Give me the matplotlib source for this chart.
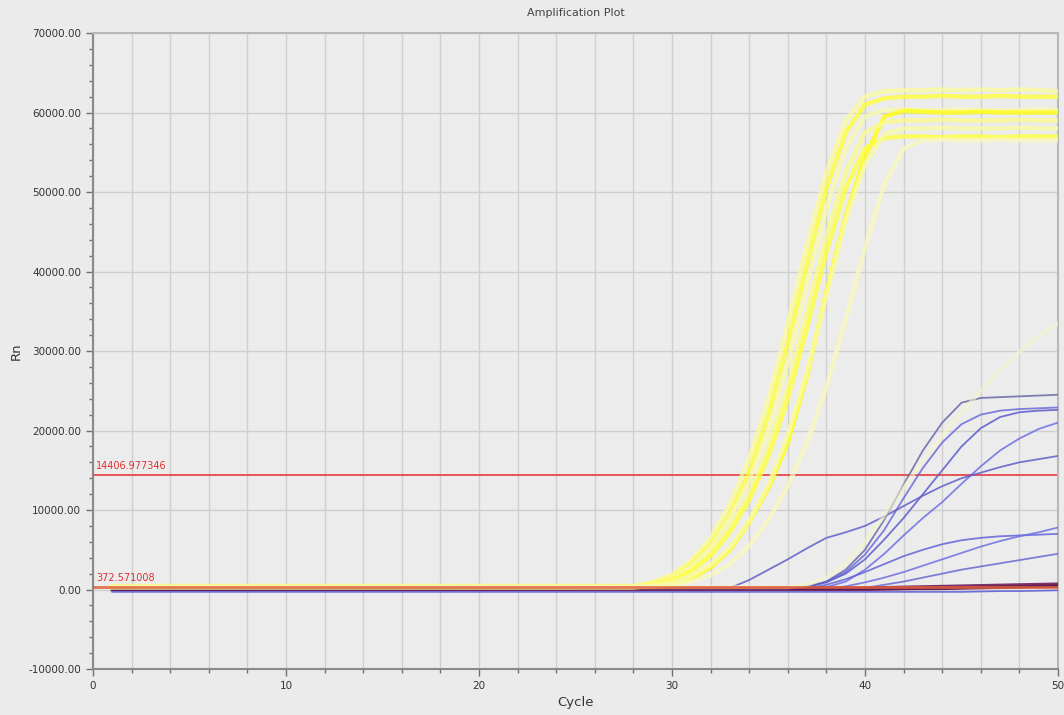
import numpy as np
import matplotlib.pyplot as plt
from matplotlib.ticker import MultipleLocator, FormatStrFormatter

# --- data ---
# each curve: flat baseline from cycle 1, then per-cycle values from `start` to 50
yellow_start = 28
yellow_a = [450, 900, 1900, 3700, 6500, 10800, 16500, 24000, 33500, 43500, 52500, 59000,
            62000, 62700, 62800, 62800, 62900, 62800, 62900, 62800, 62900, 62800, 62700]
yellow_b = [400, 800, 1600, 3200, 5700, 9500, 14800, 22000, 31000, 41000, 50500, 57500,
            61000, 61800, 62000, 62000, 62100, 62000, 62000, 62100, 62000, 62000, 62000]
yellow_c = [380, 750, 1500, 2900, 5300, 9000, 13600, 20000, 28500, 38500, 48000, 55500,
            59500, 60300, 60400, 60300, 60300, 60400, 60300, 60300, 60300, 60400, 60300]
yellow_d = [300, 400, 700, 1400, 2800, 5000, 8500, 12800, 18500, 27000, 37500, 47000,
            54500, 59500, 60200, 60100, 60000, 60000, 60100, 60000, 60000, 60000, 60000]
yellow_e = [350, 650, 1300, 2500, 4600, 7800, 12000, 17800, 25500, 35000, 44500, 52500,
            57500, 58800, 59000, 59000, 59100, 59000, 59000, 59000, 59100, 59000, 59000]
yellow_f = [330, 600, 1200, 2300, 4200, 7200, 11300, 16800, 24000, 33000, 42500, 50500,
            55500, 56800, 57000, 57000, 56900, 57000, 57000, 56900, 57000, 57000, 57000]
yellow_g = [300, 400, 600, 1000, 1800, 3200, 5500, 8800, 13000, 18500, 25500, 34000,
            43000, 51000, 55500, 56500, 56600, 56500, 56500, 56600, 56500, 56500, 56500]
yellow_h = [320, 500, 900, 1700, 3100, 5300, 8700, 13200, 19500, 27500, 37000, 46500,
            53500, 57300, 58000, 58000, 58100, 58000, 58000, 58000, 58100, 58000, 58000]
yellow_late_start = 36
yellow_late = [300, 600, 1500, 3300, 6000, 9300, 12800, 16200, 19300, 22300, 25000,
               27600, 29900, 31900, 33500]

blue_1 = [100, 400, 1000, 2500, 5000, 8800, 13200, 17500, 21000, 23500, 24100, 24200, 24300, 24400, 24500]
blue_2 = [100, 300, 1000, 2200, 4400, 7500, 11500, 15300, 18500, 20800, 22000, 22500, 22700, 22800, 22900]
blue_3 = [100, 300, 900, 2000, 3800, 6300, 9000, 12000, 15000, 18000, 20300, 21700, 22300, 22500, 22600]
blue_4 = [50, 150, 300, 1000, 2500, 4500, 6800, 9000, 11000, 13300, 15500, 17500, 19000, 20200, 21000]
blue_5 = [200, 1200, 2500, 3800, 5200, 6500, 7200, 8000, 9200, 10500, 11800, 13000, 14000,
          14700, 15400, 16000, 16400, 16800]
blue_6 = [100, 600, 1300, 2200, 3200, 4200, 5000, 5700, 6200, 6500, 6700, 6800, 6900, 7000]
blue_7 = [100, 400, 900, 1500, 2200, 3000, 3800, 4600, 5400, 6100, 6700, 7200, 7800]
blue_8 = [200, 600, 1000, 1500, 2000, 2500, 2900, 3300, 3700, 4100, 4500]
blue_starts = [36, 36, 36, 36, 33, 37, 38, 40]

dark_1 = [200, 250, 300, 350, 400, 450, 500, 550, 600, 650, 700]
dark_2 = [0, 50, 100, 150, 200, 250, 300, 350, 400, 450, 500]
dark_3 = [100, 150, 200, 250, 300, 350, 400]
dark_4 = [-300, -250, -200, -200, -150, -100]
dark_starts = [40, 40, 44, 45]
dark_bases = [100, -50, 0, -300]

thresholds = [14406.977346, 372.571008]
threshold_labels = ['14406.977346', '372.571008']

# --- styling ---
bg = '#ebebeb'
plt.rcParams['font.family'] = ['Liberation Sans Narrow', 'DejaVu Sans Condensed', 'DejaVu Sans']

fig = plt.figure(figsize=(10.64, 7.15), dpi=100, facecolor=bg)
ax = fig.add_axes([0.0874, 0.0643, 0.9070, 0.8895], facecolor='#ececec')


def curve(start, vals, base=None):
    xs = [1] + list(range(start, start + len(vals)))
    ys = [vals[0] if base is None else base] + list(vals)
    return xs, ys


# upper threshold under the curves
ax.axhline(thresholds[0], color='#e84848', lw=1.3, zorder=2)

# purple / blue curves
blue_colors = ['#6868a8', '#6a6adc', '#5c5ccc', '#6e6ee6', '#6060c8', '#6464d8', '#7070e0', '#6a6ad4']
blue_all = [blue_1, blue_2, blue_3, blue_4, blue_5, blue_6, blue_7, blue_8]
for vals, st, col in zip(blue_all, blue_starts, blue_colors):
    xs, ys = curve(st, vals, base=50)
    ax.plot(xs, ys, color=col, lw=1.3, alpha=0.85, zorder=3)

dark_colors = ['#6b1f5e', '#7a2050', '#5a1860', '#6060d8']
dark_widths = [2.2, 2.2, 2.0, 1.2]
for vals, st, b, col, w in zip([dark_1, dark_2, dark_3, dark_4], dark_starts, dark_bases,
                               dark_colors, dark_widths):
    xs, ys = curve(st, vals, base=b)
    ax.plot(xs, ys, color=col, lw=w, alpha=0.9, zorder=3)

# yellow curves
yellow_all = [yellow_a, yellow_b, yellow_c, yellow_d, yellow_e, yellow_f, yellow_g, yellow_h]
yellow_colors = ['#fafaa0', '#ffff3c', '#f8f8b0', '#ffff10', '#fafa90', '#ffff40', '#f8f8c0', '#fafaa8']
for vals, col in zip(yellow_all, yellow_colors):
    xs, ys = curve(yellow_start, vals, base=vals[0])
    ax.plot(xs, ys, color=col, lw=3.2, alpha=0.8, zorder=4, solid_joinstyle='round')
xs, ys = curve(yellow_late_start, yellow_late, base=300)
ax.plot(xs, ys, color='#f6f4cc', lw=3.0, alpha=0.6, zorder=4)

# lower threshold drawn over the baselines (gives the orange band)
ax.axhline(thresholds[1], color='#e06038', lw=2.0, alpha=0.85, zorder=5)

# threshold labels
for t, lab in zip(thresholds, threshold_labels):
    ax.text(0.15, t + 500, lab, color='#e03030', fontsize=7, va='bottom', ha='left', zorder=6)

ax.set_xlim(0, 50)
ax.set_ylim(-10000, 70000)
ax.xaxis.set_major_locator(MultipleLocator(10))
ax.xaxis.set_minor_locator(MultipleLocator(2))
ax.yaxis.set_major_locator(MultipleLocator(10000))
ax.yaxis.set_minor_locator(MultipleLocator(2000))
ax.yaxis.set_major_formatter(FormatStrFormatter('%.2f'))

ax.grid(True, which='major', axis='y', color='#cfcfcf', lw=1.0)
ax.grid(True, which='both', axis='x', color='#cfcfcf', lw=1.0)
ax.set_axisbelow(True)

ax.tick_params(which='major', direction='out', length=5, width=1, color='#707070',
               labelsize=7.5, labelcolor='#333333')
ax.tick_params(which='minor', direction='out', length=3, width=1, color='#707070')

for side in ['left', 'bottom']:
    ax.spines[side].set_color('#8a8a8a')
    ax.spines[side].set_linewidth(1.5)
for side in ['top', 'right']:
    ax.spines[side].set_color('#b8b8b8')
    ax.spines[side].set_linewidth(1.5)

ax.set_title('Amplification Plot', fontsize=8, color='#444444', pad=12)
ax.set_xlabel('Cycle', fontsize=9.5, color='#333333', labelpad=4)
ax.set_ylabel('Rn', fontsize=9.5, color='#333333', labelpad=4)

fig.savefig('out.png', dpi=100, facecolor=bg)
